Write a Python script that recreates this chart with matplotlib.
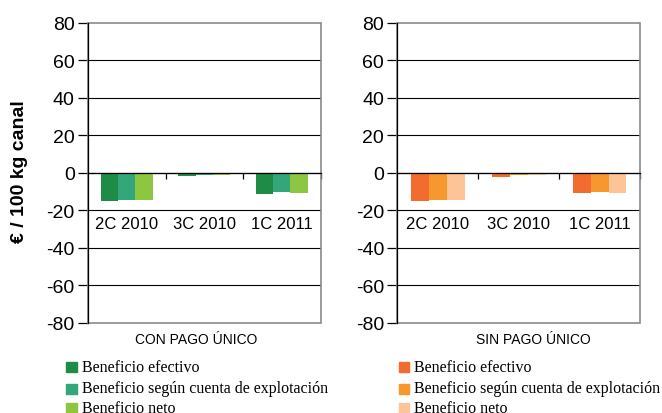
import matplotlib
matplotlib.use("Agg")
import matplotlib.pyplot as plt
from matplotlib.patches import Rectangle
import numpy as np

categories = ["2C 2010", "3C 2010", "1C 2011"]
series_names = ["Beneficio efectivo", "Beneficio según cuenta de explotación", "Beneficio neto"]
con_pago = {
    "Beneficio efectivo": [-15.2, -1.8, -11.3],
    "Beneficio según cuenta de explotación": [-14.3, -1.2, -10.5],
    "Beneficio neto": [-14.7, -1.2, -10.8],
}
sin_pago = {
    "Beneficio efectivo": [-15.3, -2.0, -11.0],
    "Beneficio según cuenta de explotación": [-14.4, -1.4, -10.5],
    "Beneficio neto": [-14.4, -1.4, -11.0],
}
yticks = [-80, -60, -40, -20, 0, 20, 40, 60, 80]
panel_titles = ["CON PAGO ÚNICO", "SIN PAGO ÚNICO"]
ylabel = "€ / 100 kg canal"

greens = ["#1E8C46", "#34A67A", "#8DC640"]
oranges = ["#F26C2F", "#F7982F", "#FDC597"]

W, H = 662, 414
fig = plt.figure(figsize=(W / 100, H / 100), dpi=100)
sans = ["Liberation Sans", "DejaVu Sans"]
serif = ["Liberation Serif", "DejaVu Serif"]

def px_axes(x0, x1, y0, y1):
    return fig.add_axes([x0 / W, 1 - y1 / H, (x1 - x0) / W, (y1 - y0) / H])

ax1 = px_axes(88, 320.5, 23.5, 324)
ax2 = px_axes(397.3, 640, 23.5, 324)

bw = 0.222
x = np.arange(len(categories))

def draw(ax, data, colors):
    ax.set_xlim(-0.5, len(categories) - 0.5)
    ax.set_ylim(-80, 80)
    for yv in yticks[1:-1]:
        ax.axhline(yv, color="black", lw=0.8, zorder=1)
    for i, name in enumerate(series_names):
        ax.bar(x + (i - 1) * bw, data[name], width=bw, color=colors[i], zorder=3, linewidth=0)
    # frame
    ax.add_patch(Rectangle((0, 0), 1, 1, transform=ax.transAxes, fill=False,
                           edgecolor="#8a8a8a", lw=1.2, zorder=4, clip_on=False))
    for s in ["top", "right"]:
        ax.spines[s].set_visible(False)
    ax.spines["left"].set_color("black")
    ax.spines["left"].set_linewidth(0.9)
    ax.spines["left"].set_zorder(5)
    ax.spines["bottom"].set_position(("data", 0))
    ax.spines["bottom"].set_color("black")
    ax.spines["bottom"].set_linewidth(0.9)
    ax.spines["bottom"].set_zorder(5)
    ax.set_xticks([0.5, 1.5, 2.5])
    ax.set_xticklabels([])
    ax.tick_params(axis="x", direction="out", length=4, width=0.9, color="black")
    ax.set_yticks(yticks)
    ax.set_yticklabels([str(v) for v in yticks], fontfamily=sans, fontsize=14)
    ax.tick_params(axis="y", direction="out", length=7, width=0.9, pad=2.5)
    for i, c in enumerate(categories):
        ax.text(i, -27.0, c, ha="center", va="center", fontfamily=sans, fontsize=12, zorder=6)
    ax.set_facecolor("white")

draw(ax1, con_pago, greens)
draw(ax2, sin_pago, oranges)

fig.text(20 / W, 1 - 172 / H, ylabel, rotation=90, ha="center", va="center",
         fontfamily=sans, fontsize=14, fontweight="bold")

fig.text(196 / W, 1 - 340.5 / H, panel_titles[0], ha="center", va="center",
         fontfamily=sans, fontsize=10)
fig.text(533 / W, 1 - 340.5 / H, panel_titles[1], ha="center", va="center",
         fontfamily=sans, fontsize=10)

rows = [368, 389.5, 409]
for (sx, tx, cols) in [(66, 81.5, greens), (398.5, 413.5, oranges)]:
    for i, name in enumerate(series_names):
        cy = rows[i]
        fig.patches.append(Rectangle((sx / W, 1 - (cy + 5) / H), 10.5 / W, 10 / H,
                                     transform=fig.transFigure, color=cols[i], figure=fig))
        fig.text(tx / W, 1 - cy / H, name, ha="left", va="center",
                 fontfamily=serif, fontsize=11.5)

fig.savefig("out.png", dpi=100)
